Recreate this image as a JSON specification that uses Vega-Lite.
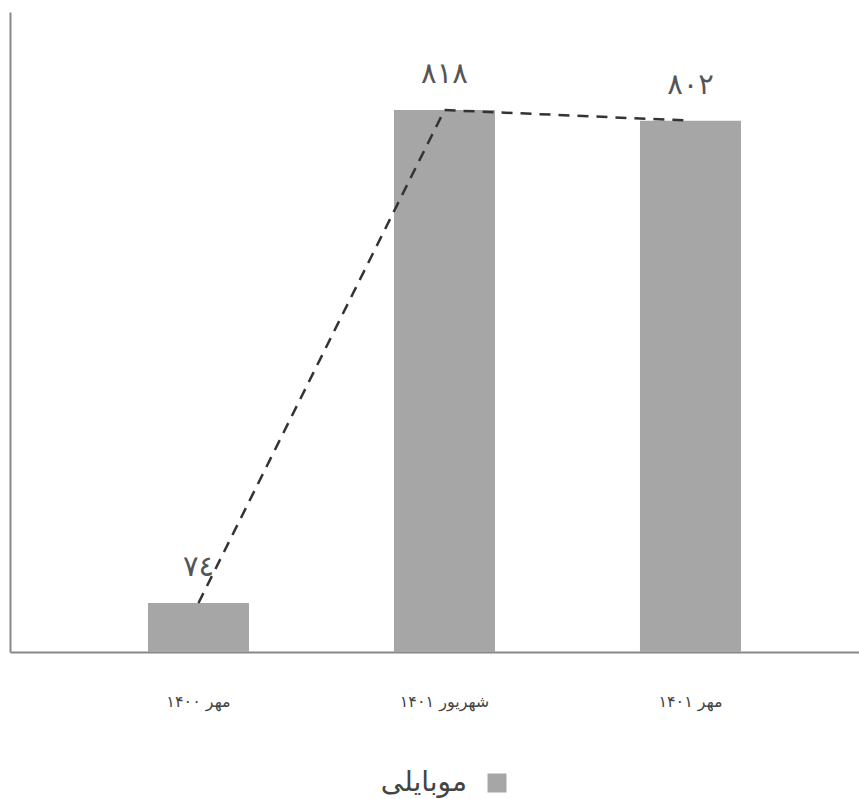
{
  "$schema": "https://vega.github.io/schema/vega-lite/v6.json",
  "width": 849,
  "height": 640,
  "padding": {"left": 10, "top": 12, "right": 0, "bottom": 5},
  "background": "white",
  "config": {
    "view": {"stroke": null},
    "font": "DejaVu Sans"
  },
  "data": {
    "values": [
      {"period": "مهر ۱۴۰۰", "value": 74, "label": "٧٤", "series": "موبایلی"},
      {"period": "شهریور ۱۴۰۱", "value": 818, "label": "۸۱۸", "series": "موبایلی"},
      {"period": "مهر ۱۴۰۱", "value": 802, "label": "۸۰۲", "series": "موبایلی"}
    ]
  },
  "encoding": {
    "x": {
      "field": "period",
      "type": "nominal",
      "sort": null,
      "scale": {"paddingInner": 0.5894, "paddingOuter": 0.5203, "align": 0.539},
      "axis": {
        "title": null,
        "labelAngle": 0,
        "ticks": false,
        "labelPadding": 41,
        "labelFontSize": 16,
        "labelColor": "#444444",
        "domainColor": "#888888",
        "domainWidth": 2
      }
    },
    "y": {
      "field": "value",
      "type": "quantitative",
      "scale": {"domain": [0, 966], "nice": false},
      "axis": {
        "title": null,
        "labels": false,
        "ticks": false,
        "grid": false,
        "domainColor": "#888888",
        "domainWidth": 2
      }
    }
  },
  "layer": [
    {
      "mark": {"type": "bar"},
      "encoding": {
        "color": {
          "field": "series",
          "type": "nominal",
          "scale": {"range": ["#a6a6a6"]},
          "legend": {
            "title": null,
            "orient": "none",
            "legendX": 473,
            "legendY": 757,
            "padding": 0,
            "direction": "horizontal",
            "symbolType": "square",
            "symbolSize": 361,
            "symbolStrokeWidth": 0,
            "labelFontSize": 28,
            "labelColor": "#444444",
            "labelAlign": "right",
            "labelOffset": -44
          }
        }
      }
    },
    {
      "mark": {"type": "line", "color": "#333333", "strokeWidth": 2.5, "strokeDash": [11, 8]},
      "encoding": {}
    },
    {
      "mark": {"type": "text", "baseline": "bottom", "dy": -21, "fontSize": 29, "color": "#555555"},
      "encoding": {"text": {"field": "label"}}
    }
  ]
}
